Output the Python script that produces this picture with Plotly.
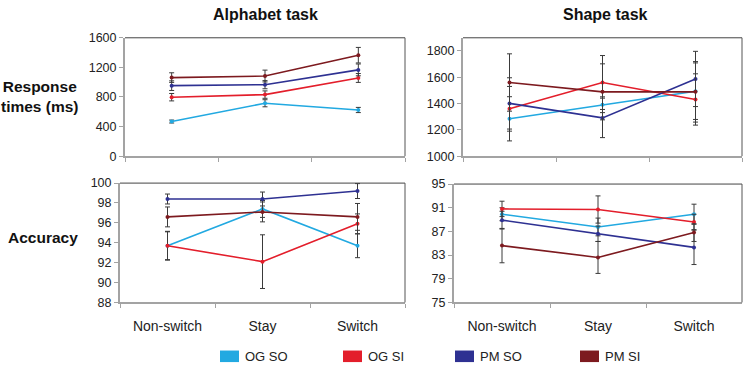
import plotly.graph_objects as go

categories = ["Non-switch", "Stay", "Switch"]
series = ["OG SO", "OG SI", "PM SO", "PM SI"]
colors = ["#22A9E1", "#E31E2B", "#2E3192", "#7D1A1F"]

# Response times, alphabet task
rt_alpha = {
    "OG SO": [468, 715, 624],
    "OG SI": [797, 832, 1057],
    "PM SO": [953, 966, 1166],
    "PM SI": [1062, 1083, 1365],
}
rt_alpha_err = {
    "OG SO": [20, 48, 35],
    "OG SI": [50, 50, 60],
    "PM SO": [65, 55, 80],
    "PM SI": [65, 80, 105],
}
# Response times, shape task
rt_shape = {
    "OG SO": [1284, 1391, 1494],
    "OG SI": [1360, 1560, 1431],
    "PM SO": [1401, 1291, 1587],
    "PM SI": [1560, 1489, 1489],
}
rt_shape_err = {
    "OG SO": [168, 60, 215],
    "OG SI": [170, 205, 195],
    "PM SO": [195, 150, 210],
    "PM SI": [218, 213, 230],
}
# Accuracy, alphabet task
acc_alpha = {
    "OG SO": [93.7, 97.4, 93.7],
    "OG SI": [93.7, 92.1, 95.9],
    "PM SO": [98.4, 98.4, 99.2],
    "PM SI": [96.6, 97.1, 96.6],
}
acc_alpha_err = {
    "OG SO": [1.45, 0.85, 1.2],
    "OG SI": [1.4, 2.7, 1.0],
    "PM SO": [0.5, 0.7, 0.75],
    "PM SI": [1.0, 1.0, 1.35],
}
# Accuracy, shape task
acc_shape = {
    "OG SO": [89.9, 87.75, 89.9],
    "OG SI": [90.8, 90.7, 88.6],
    "PM SO": [88.9, 86.6, 84.3],
    "PM SI": [84.6, 82.6, 86.8],
}
acc_shape_err = {
    "OG SO": [1.1, 1.5, 1.7],
    "OG SI": [1.3, 2.3, 1.3],
    "PM SO": [1.5, 1.3, 2.9],
    "PM SI": [2.9, 2.7, 1.5],
}

panels = [
    (rt_alpha, rt_alpha_err, "x", "y"),
    (rt_shape, rt_shape_err, "x2", "y2"),
    (acc_alpha, acc_alpha_err, "x3", "y3"),
    (acc_shape, acc_shape_err, "x4", "y4"),
]

W, H = 743, 371
def px_x(a, b):
    return [a / W, b / W]
def px_y(top, bottom):
    return [1 - bottom / H, 1 - top / H]

fig = go.Figure()
for data, err, xa, ya in panels:
    for s, c in zip(series, colors):
        fig.add_trace(go.Scatter(
            x=categories, y=data[s], xaxis=xa, yaxis=ya, name=s,
            mode="lines+markers",
            line=dict(color=c, width=1.6),
            marker=dict(color=c, size=4),
            error_y=dict(type="data", array=err[s], color="#3a3a3a", thickness=1, width=2.5),
            showlegend=False,
        ))

FONT = "Liberation Sans, Arial, sans-serif"
AXCOL = "#a3a3a3"

def xaxis(domain, anchor, labels):
    return dict(
        domain=domain, anchor=anchor, type="category", categoryarray=categories,
        range=[-0.5, 2.5], showline=True, linecolor=AXCOL, linewidth=2,
        ticks="outside", tickson="boundaries", ticklen=4, tickcolor=AXCOL, tickwidth=1,
        showticklabels=labels, tickfont=dict(family=FONT, size=14, color="#222"),
        ticklabelstandoff=10, showgrid=False, zeroline=False, fixedrange=True,
    )

def yaxis(domain, anchor, rng, dtick, tick0):
    return dict(
        domain=domain, anchor=anchor, range=rng, dtick=dtick, tick0=tick0,
        showline=True, linecolor=AXCOL, linewidth=2,
        ticks="outside", ticklen=4, tickcolor=AXCOL, tickwidth=1,
        tickfont=dict(family=FONT, size=12.5, color="#222"),
        showgrid=False, zeroline=False, fixedrange=True,
    )

dom = {
    "TL": (px_x(125, 405), px_y(32, 155)),
    "TR": (px_x(463, 742), px_y(32, 155)),
    "BL": (px_x(120, 405), px_y(183, 307)),
    "BR": (px_x(454, 742), px_y(184, 307)),
}

fig.update_layout(
    width=W, height=H, margin=dict(l=0, r=0, t=0, b=0),
    paper_bgcolor="white", plot_bgcolor="white", showlegend=False,
    font=dict(family=FONT), hovermode=False,
    xaxis=xaxis(dom["TL"][0], "y", False),
    yaxis=yaxis(dom["TL"][1], "x", [0, 1600], 400, 0),
    xaxis2=xaxis(dom["TR"][0], "y2", False),
    yaxis2=yaxis(dom["TR"][1], "x2", [1000, 1900], 200, 1000),
    xaxis3=xaxis(dom["BL"][0], "y3", True),
    yaxis3=yaxis(dom["BL"][1], "x3", [88, 100], 2, 88),
    xaxis4=xaxis(dom["BR"][0], "y4", True),
    yaxis4=yaxis(dom["BR"][1], "x4", [75, 95], 4, 75),
)

# top and right borders of each plot area
shapes = []
for xa, ya in [("x", "y"), ("x2", "y2"), ("x3", "y3"), ("x4", "y4")]:
    shapes.append(dict(type="line", xref=f"{xa} domain", yref=f"{ya} domain",
                       x0=0, x1=1, y0=1, y1=1, line=dict(color="#444", width=1)))
    shapes.append(dict(type="line", xref=f"{xa} domain", yref=f"{ya} domain",
                       x0=1, x1=1, y0=0, y1=1, line=dict(color="#555", width=1)))

annotations = [
    dict(text="<b>Alphabet task</b>", x=265 / W, y=1 - 8 / H, xref="paper", yref="paper",
         showarrow=False, font=dict(family=FONT, size=16, color="#111"), xanchor="center", yanchor="middle"),
    dict(text="<b>Shape task</b>", x=605 / W, y=1 - 8 / H, xref="paper", yref="paper",
         showarrow=False, font=dict(family=FONT, size=16, color="#111"), xanchor="center", yanchor="middle"),
    dict(text="<b>Response<br>times (ms)</b>", x=40 / W, y=1 - 93 / H, xref="paper", yref="paper",
         showarrow=False, font=dict(family=FONT, size=15.5, color="#111"), xanchor="center", yanchor="middle",
         align="center"),
    dict(text="<b>Accuracy</b>", x=43 / W, y=1 - 240 / H, xref="paper", yref="paper",
         showarrow=False, font=dict(family=FONT, size=15.5, color="#111"), xanchor="center", yanchor="middle"),
]

# legend (manual)
legend_x = [220, 343, 455, 580]
for s, c, lx in zip(series, colors, legend_x):
    shapes.append(dict(type="rect", xref="paper", yref="paper",
                       x0=lx / W, x1=(lx + 19) / W, y0=1 - 369 / H, y1=1 - 357 / H,
                       fillcolor=c, line=dict(width=0)))
    annotations.append(dict(text=s, x=(lx + 23) / W, y=1 - 363 / H, xref="paper", yref="paper",
                            showarrow=False, xanchor="left", yanchor="middle",
                            font=dict(family=FONT, size=13, color="#222")))

fig.update_layout(shapes=shapes, annotations=annotations)
fig.write_html(
    "out.html",
    config={"displayModeBar": False, "staticPlot": True},
    post_script="document.body.style.margin='0';document.body.style.overflow='hidden';",
)
